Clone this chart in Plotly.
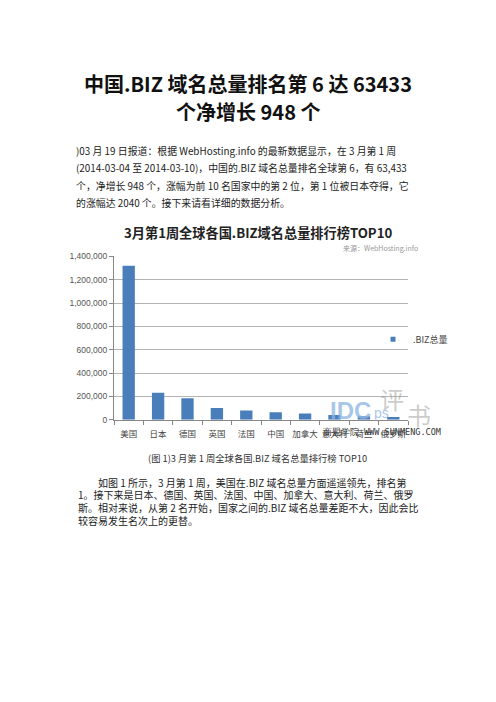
import plotly.graph_objects as go

W, H = 496, 702

countries = ["美国", "日本", "德国", "英国", "法国", "中国", "加拿大", "意大利", "荷兰", "俄罗斯"]
biz_totals = [1320000, 231000, 183000, 101000, 79000, 63433, 54000, 40000, 29000, 23000]
y_ticks = [0, 200000, 400000, 600000, 800000, 1000000, 1200000, 1400000]
y_tick_labels = ["0", "200,000", "400,000", "600,000", "800,000", "1,000,000", "1,200,000", "1,400,000"]

doc_title = ["中国.BIZ 域名总量排名第 6 达 63433", "个净增长 948 个"]
para1 = [
    ")03 月 19 日报道：根据 WebHosting.info 的最新数据显示，在 3 月第 1 周",
    "(2014-03-04 至 2014-03-10)，中国的.BIZ 域名总量排名全球第 6，有 63,433",
    "个，净增长 948 个，涨幅为前 10 名国家中的第 2 位，第 1 位被日本夺得，它",
    "的涨幅达 2040 个。接下来请看详细的数据分析。",
]
chart_title = "3月第1周全球各国.BIZ域名总量排行榜TOP10"
source = "来源：WebHosting.info"
caption = "(图 1)3 月第 1 周全球各国.BIZ 域名总量排行榜 TOP10"
para2 = [
    "如图 1 所示，3 月第 1 周，美国在.BIZ 域名总量方面遥遥领先，排名第",
    "1。接下来是日本、德国、英国、法国、中国、加拿大、意大利、荷兰、俄罗",
    "斯。相对来说，从第 2 名开始，国家之间的.BIZ 域名总量差距不大，因此会比",
    "较容易发生名次上的更替。",
]

CJK = "Noto Sans CJK SC"
BLUE = "#4a7ebb"

def px(x):
    return x / W

def py(y):
    return 1 - y / H

fig = go.Figure()
fig.add_trace(go.Bar(
    x=countries, y=biz_totals, name=".BIZ总量", showlegend=False,
    marker=dict(color=BLUE, line=dict(width=0)),
))
# legend entry (small square key, as in the reference)
fig.add_trace(go.Scatter(
    x=[None], y=[None], mode="markers", name=".BIZ总量",
    marker=dict(symbol="square", size=5, color=BLUE),
))

ann = []
for i, t in enumerate(doc_title):
    ann.append(dict(text="<b>%s</b>" % t, x=px(248), y=py(80 + 28 * i), xanchor="center", yanchor="middle",
                    font=dict(family=CJK, size=20, color="#111")))
for i, t in enumerate(para1):
    ann.append(dict(text=t, x=px(74), y=py(148 + 17.6 * i), xanchor="left", yanchor="middle",
                    font=dict(family=CJK, size=9.9, color="#222")))
ann.append(dict(text="<b>%s</b>" % chart_title, x=px(258), y=py(231), xanchor="center", yanchor="middle",
                font=dict(family=CJK, size=13.2, color="#222")))
ann.append(dict(text=source, x=px(420), y=py(247), xanchor="right", yanchor="middle",
                font=dict(family=CJK, size=7, color="#999")))
ann.append(dict(text=caption, x=px(257), y=py(460), xanchor="center", yanchor="middle",
                font=dict(family=CJK, size=9.3, color="#333")))
for i, t in enumerate(para2):
    x0 = 96 if i == 0 else 76
    ann.append(dict(text=t, x=px(x0), y=py(484 + 12.9 * i), xanchor="left", yanchor="middle",
                    font=dict(family=CJK, size=10, color="#222")))
# watermark
ann.append(dict(text="<b>IDC</b>", x=px(350), y=py(411), xanchor="center", yanchor="middle",
                font=dict(family="Liberation Sans", size=24, color="rgba(140,180,225,0.75)")))
ann.append(dict(text="ps", x=px(381), y=py(414), xanchor="center", yanchor="middle",
                font=dict(family="Liberation Sans", size=14, color="rgba(140,180,225,0.75)")))
ann.append(dict(text="评", x=px(392), y=py(399), xanchor="center", yanchor="middle",
                font=dict(family=CJK, size=24, color="rgba(160,160,160,0.55)")))
ann.append(dict(text="书", x=px(419), y=py(415), xanchor="center", yanchor="middle",
                font=dict(family=CJK, size=24, color="rgba(160,160,160,0.55)")))
ann.append(dict(text="商盟学院-WWW.SUNMENG.COM", x=px(382), y=py(433), xanchor="center", yanchor="middle",
                font=dict(family="DejaVu Sans Mono", size=8.5, color="#333")))

for a in ann:
    a.update(xref="paper", yref="paper", showarrow=False)

fig.update_layout(
    width=W, height=H,
    margin=dict(l=0, r=0, t=0, b=0),
    paper_bgcolor="white", plot_bgcolor="white",
    bargap=0.58,
    showlegend=True,
    legend=dict(x=px(373), y=py(339), xanchor="left", yanchor="middle", bgcolor="rgba(0,0,0,0)",
                font=dict(family=CJK, size=9, color="#444"), itemwidth=30, tracegroupgap=0),
    xaxis=dict(domain=[px(114), px(408)], type="category",
               showline=True, linecolor="#888", linewidth=1, tickangle=0,
               ticks="outside", tickson="boundaries", ticklen=4, tickcolor="#888",
               ticklabelstandoff=6,
               tickfont=dict(family=CJK, size=8.5, color="#444"), showgrid=False),
    yaxis=dict(domain=[py(420.7), py(255)], range=[0, 1400000],
               tickvals=y_ticks, ticktext=y_tick_labels,
               showline=True, linecolor="#888", linewidth=1,
               ticks="outside", ticklen=4, tickcolor="#888",
               showgrid=True, gridcolor="#b4b4b4", gridwidth=1,
               tickfont=dict(family="Liberation Sans", size=8.5, color="#555"), zeroline=False),
    annotations=ann,
)

fig.write_html("out.html")
